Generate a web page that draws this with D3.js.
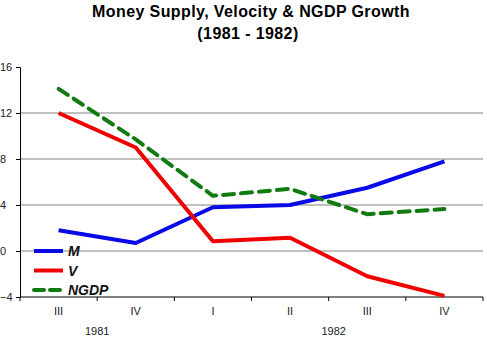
<!DOCTYPE html>
<html><head><meta charset="utf-8">
<script src="https://cdn.jsdelivr.net/npm/d3@7"></script>
<style>body{margin:0;background:#fff}svg{display:block}text{font-family:Arial,"Liberation Sans",sans-serif}</style>
</head><body><svg id="c" width="487" height="339"></svg>
<script>
const quarters = ["III","IV","I","II","III","IV"];
const years = [{label:"1981", from:0, to:1},{label:"1982", from:2, to:5}];
const M = [1.8, 0.7, 3.8, 4.0, 5.5, 7.8];
const V = [12.0, 9.0, 0.85, 1.15, -2.2, -3.9];
const NGDP = [14.1, 9.7, 4.8, 5.4, 3.2, 3.65];
const yTicks = [-4, 0, 4, 8, 12, 16];
const grid = [0, 4, 8, 12];
const series = [
  {name:"M", values:M, color:"#0a0ae6", dash:null},
  {name:"V", values:V, color:"#f00000", dash:null},
  {name:"NGDP", values:NGDP, color:"#117a11", dash:"11,7"}
];

const svg = d3.select("#c");
const L = 20, R = 483, T = 67, B = 297;
const x = d3.scaleBand().domain(d3.range(quarters.length)).range([L, R]);
const y = d3.scaleLinear().domain([-4, 16]).range([B, T]);

svg.append("text").attr("x", 251).attr("y", 17).attr("text-anchor","middle")
  .attr("font-size", 16).attr("font-weight","bold").attr("letter-spacing","0.4")
  .text("Money Supply, Velocity & NGDP Growth");
svg.append("text").attr("x", 248).attr("y", 39).attr("text-anchor","middle")
  .attr("font-size", 16).attr("font-weight","bold").attr("letter-spacing","0.4")
  .text("(1981 - 1982)");

// gridlines
svg.append("g").selectAll("line").data(grid).join("line")
  .attr("x1", L).attr("x2", R).attr("y1", d=>y(d)).attr("y2", d=>y(d))
  .attr("stroke", "#c0c0c0").attr("stroke-width", 2);

// y axis
const ya = svg.append("g").attr("transform", `translate(${L},0)`)
  .call(d3.axisLeft(y).tickValues(yTicks).tickSize(4).tickPadding(2));
ya.select(".domain").attr("stroke","#000");
ya.selectAll("text").attr("font-size", 11).attr("font-family","Arial").attr("fill","#222")
  .attr("text-anchor","start").attr("x", -20);

// x axis
const xa = svg.append("g").attr("transform", `translate(0,${B})`);
xa.append("line").attr("x1", L).attr("x2", R).attr("stroke","#000");
const bounds = d3.range(quarters.length + 1).map(i => i < quarters.length ? x(i) : x(quarters.length-1) + x.bandwidth());
xa.selectAll("line.t").data(bounds).join("line").attr("class","t")
  .attr("x1", d=>d).attr("x2", d=>d).attr("y1", 0).attr("y2", 4).attr("stroke","#000");
xa.selectAll("text.q").data(quarters).join("text").attr("class","q")
  .attr("x", (d,i)=>x(i)+x.bandwidth()/2).attr("y", 18).attr("text-anchor","middle")
  .attr("font-size", 11).attr("fill","#222").text(d=>d);
xa.selectAll("text.yr").data(years).join("text").attr("class","yr")
  .attr("x", d=>(x(d.from) + x(d.to) + x.bandwidth())/2 + (d.from===0?0:5)).attr("y", 38).attr("text-anchor","middle")
  .attr("font-size", 11).attr("fill","#222").text(d=>d.label);

// lines
const line = d3.line().x((d,i)=>x(i)+x.bandwidth()/2).y(d=>y(d));
svg.append("g").selectAll("path").data(series).join("path")
  .attr("d", d=>line(d.values)).attr("fill","none")
  .attr("stroke", d=>d.color).attr("stroke-width", 4)
  .attr("stroke-dasharray", d=>d.dash)
  .attr("stroke-linecap", d=>d.dash ? "round" : "butt")
  .attr("stroke-linejoin","round");

// legend
const lg = svg.append("g").attr("transform", "translate(32,251)");
series.forEach((s,i)=>{
  const g = lg.append("g").attr("transform", `translate(0,${i*19.5})`);
  g.append("line").attr("x1", 2).attr("x2", s.dash ? 30 : 31).attr("y1", 0).attr("y2", 0)
    .attr("stroke", s.color).attr("stroke-width", 4)
    .attr("stroke-dasharray", s.dash ? "10,6" : null)
    .attr("stroke-linecap", s.dash ? "round" : "butt");
  g.append("text").attr("x", 36).attr("y", 5).attr("font-size", 14)
    .attr("font-weight","bold").attr("font-style","italic").attr("fill","#111").text(s.name);
});
</script></body></html>
